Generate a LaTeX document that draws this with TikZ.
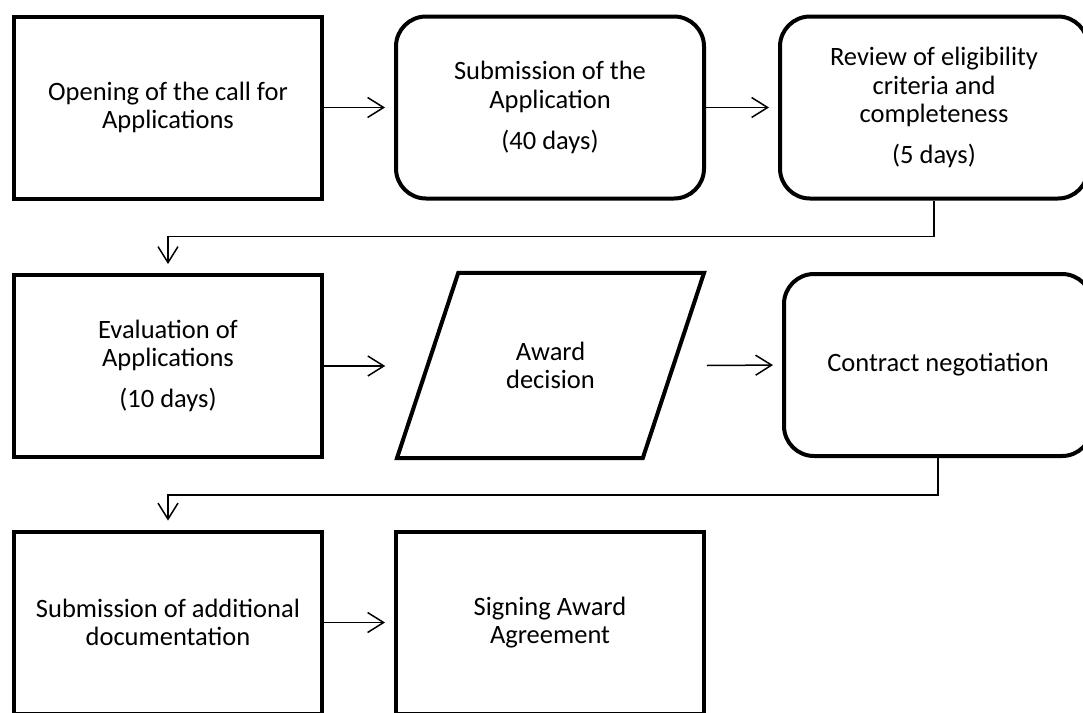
\documentclass[tikz,border=0pt]{standalone}
\usepackage{fontspec}
\setmainfont{Carlito}
\usetikzlibrary{shapes.geometric,arrows.meta}

\begin{document}
\begin{tikzpicture}[x=1pt, y=-1pt,
    every node/.style={draw, line width=4pt, inner sep=0pt, align=center, text=black,
      font=\fontsize{26.5}{28.5}\selectfont},
    stage/.style={rectangle, minimum width=308pt, minimum height=182pt},
    roundstage/.style={stage, rounded corners=30pt},
    decision/.style={trapezium, trapezium left angle=71.7, trapezium right angle=108.3,
      trapezium stretches body=true, minimum width=307pt, inner ysep=69pt},
    flow/.style={line width=1.5pt, -{Straight Barb[length=16pt,width=20pt]}, shorten >=9pt},
    ]
  \useasboundingbox (0,0) rectangle (1083,712);

  % first row
  \node[stage] (open) at (168,107.5) {Opening of the call for\\Applications};
  \node[roundstage] (submit) at (550,107.5) {Submission of the\\Application\\[12.5pt](40 days)};
  \node[roundstage] (review) at (934,107.5) {Review of eligibility\\criteria and\\completeness\\[12.5pt](5 days)};

  % second row
  \node[stage] (evaluate) at (168,366) {Evaluation of\\Applications\\[12.5pt](10 days)};
  \node[decision] (award) at (550.5,365.5) {Award\\decision};
  \node[roundstage] (negotiate) at (938,365) {Contract negotiation};

  % third row
  \node[stage] (docs) at (168,622.5) {Submission of additional\\documentation};
  \node[stage] (sign) at (550,622.5) {Signing Award\\Agreement};

  \draw[flow] (open.east) -- (submit.west);
  \draw[flow] (submit.east) -- (review.west);
  \draw[flow] (review.south) -- ++(0,36) -| (evaluate.north);
  \draw[flow] (evaluate.east) -- (evaluate.east -| award.bottom left corner);
  \draw[flow] (award.east -| award.top right corner) -- (negotiate.west);
  \draw[flow] (negotiate.south) -- ++(0,37) -| (docs.north);
  \draw[flow] (docs.east) -- (sign.west);

\end{tikzpicture}
\end{document}
